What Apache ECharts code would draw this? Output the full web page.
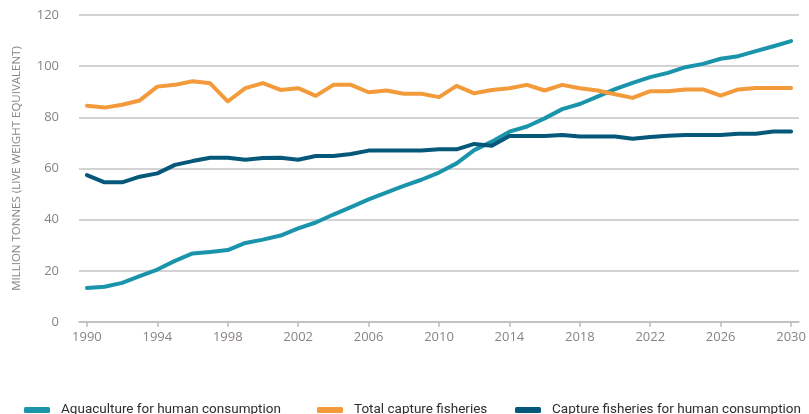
<!DOCTYPE html>
<html>
<head>
<meta charset="utf-8">
<script src="https://cdn.jsdelivr.net/npm/echarts@6/dist/echarts.min.js"></script>
<style>
  html, body { margin: 0; padding: 0; background: #fff; }
  #chart { width: 809px; height: 414px; }
</style>
</head>
<body>
<div id="chart"></div>
<script>
// years on the x axis
const years = [
  1990, 1991, 1992, 1993, 1994, 1995, 1996, 1997, 1998, 1999,
  2000, 2001, 2002, 2003, 2004, 2005, 2006, 2007, 2008, 2009,
  2010, 2011, 2012, 2013, 2014, 2015, 2016, 2017, 2018, 2019,
  2020, 2021, 2022, 2023, 2024, 2025, 2026, 2027, 2028, 2029, 2030
];
const yearTicks = [1990, 1994, 1998, 2002, 2006, 2010, 2014, 2018, 2022, 2026, 2030];

// million tonnes
const aquaculture = [
  13.3, 13.8, 15.3, 17.9, 20.5, 23.9, 26.8, 27.4, 28.1, 30.9,
  32.2, 33.8, 36.6, 38.9, 42.0, 44.9, 47.9, 50.6, 53.2, 55.6,
  58.4, 62.0, 67.2, 70.5, 74.4, 76.4, 79.6, 83.2, 85.2, 88.1,
  91.0, 93.5, 95.7, 97.4, 99.6, 100.9, 102.9, 103.9, 105.9, 107.8, 109.8
];
const totalCapture = [
  84.5, 83.8, 84.9, 86.6, 92.0, 92.7, 94.1, 93.3, 86.2, 91.4,
  93.4, 90.7, 91.4, 88.4, 92.7, 92.7, 89.8, 90.5, 89.2, 89.2,
  87.9, 92.3, 89.4, 90.7, 91.4, 92.7, 90.5, 92.7, 91.4, 90.5,
  89.0, 87.6, 90.2, 90.2, 90.9, 90.9, 88.5, 90.9, 91.5, 91.5, 91.5
];
const captureHuman = [
  57.4, 54.6, 54.6, 56.8, 58.1, 61.4, 62.9, 64.2, 64.2, 63.4,
  64.1, 64.2, 63.4, 64.9, 64.9, 65.7, 67.0, 67.0, 67.0, 67.0,
  67.5, 67.5, 69.6, 68.9, 72.7, 72.7, 72.7, 73.1, 72.5, 72.5,
  72.5, 71.6, 72.3, 72.8, 73.1, 73.1, 73.1, 73.6, 73.6, 74.5, 74.5
];

const names = [
  'Aquaculture for human consumption',
  'Total capture fisheries',
  'Capture fisheries for human consumption'
];
const colors = ['#1a94aa', '#f39a3b', '#06587b'];
const values = [aquaculture, totalCapture, captureHuman];

const labelColor = '#8a8480';
const gridColor = '#c4c4c4';

// 图例：三个独立图例，位置固定
const legendLeft = [19, 312, 510];
const legends = names.map((n, i) => ({
  data: [n],
  left: legendLeft[i],
  top: 398,
  icon: 'roundRect',
  itemWidth: 26,
  itemHeight: 6,
  textStyle: {
    fontFamily: 'Roboto',
    fontSize: 13.5,
    color: '#2e2e2e',
    padding: [0, 0, 0, 6]
  }
}));

const series = names.map((n, i) => ({
  name: n,
  type: 'line',
  symbol: 'none',
  data: years.map((y, j) => [y, values[i][j]]),
  lineStyle: { width: 4, color: colors[i], cap: 'round', join: 'round' },
  itemStyle: { color: colors[i] }
}));

const myChart = echarts.init(document.getElementById('chart'), null, { renderer: 'canvas' });

const option = {
  animation: false,
  legend: legends,
  grid: { left: 79, right: 10, top: 15, bottom: 92, outerBoundsMode: 'none' },
  xAxis: {
    type: 'value',
    min: 1989.55,
    max: 2030.45,
    splitLine: { show: false },
    axisLine: { show: true, lineStyle: { color: '#bdbdbd', width: 1.5 } },
    axisTick: { show: true, customValues: yearTicks, length: 5, lineStyle: { color: '#bdbdbd', width: 1.5 } },
    axisLabel: {
      customValues: yearTicks,
      formatter: v => String(v),
      color: labelColor,
      fontFamily: 'Open Sans',
      fontSize: 13,
      margin: 9
    }
  },
  yAxis: {
    type: 'value',
    min: 0,
    max: 120,
    interval: 20,
    name: 'MILLION TONNES (LIVE WEIGHT EQUIVALENT)',
    nameLocation: 'middle',
    nameGap: 56,
    nameTextStyle: { color: labelColor, fontFamily: 'Open Sans', fontSize: 11.5 },
    axisLine: { show: false },
    axisTick: { show: false },
    splitLine: { lineStyle: { color: gridColor, width: 1.5 } },
    axisLabel: {
      color: labelColor,
      fontFamily: 'Open Sans',
      fontSize: 13,
      margin: 20
    }
  },
  series
};

myChart.setOption(option);
</script>
</body>
</html>
